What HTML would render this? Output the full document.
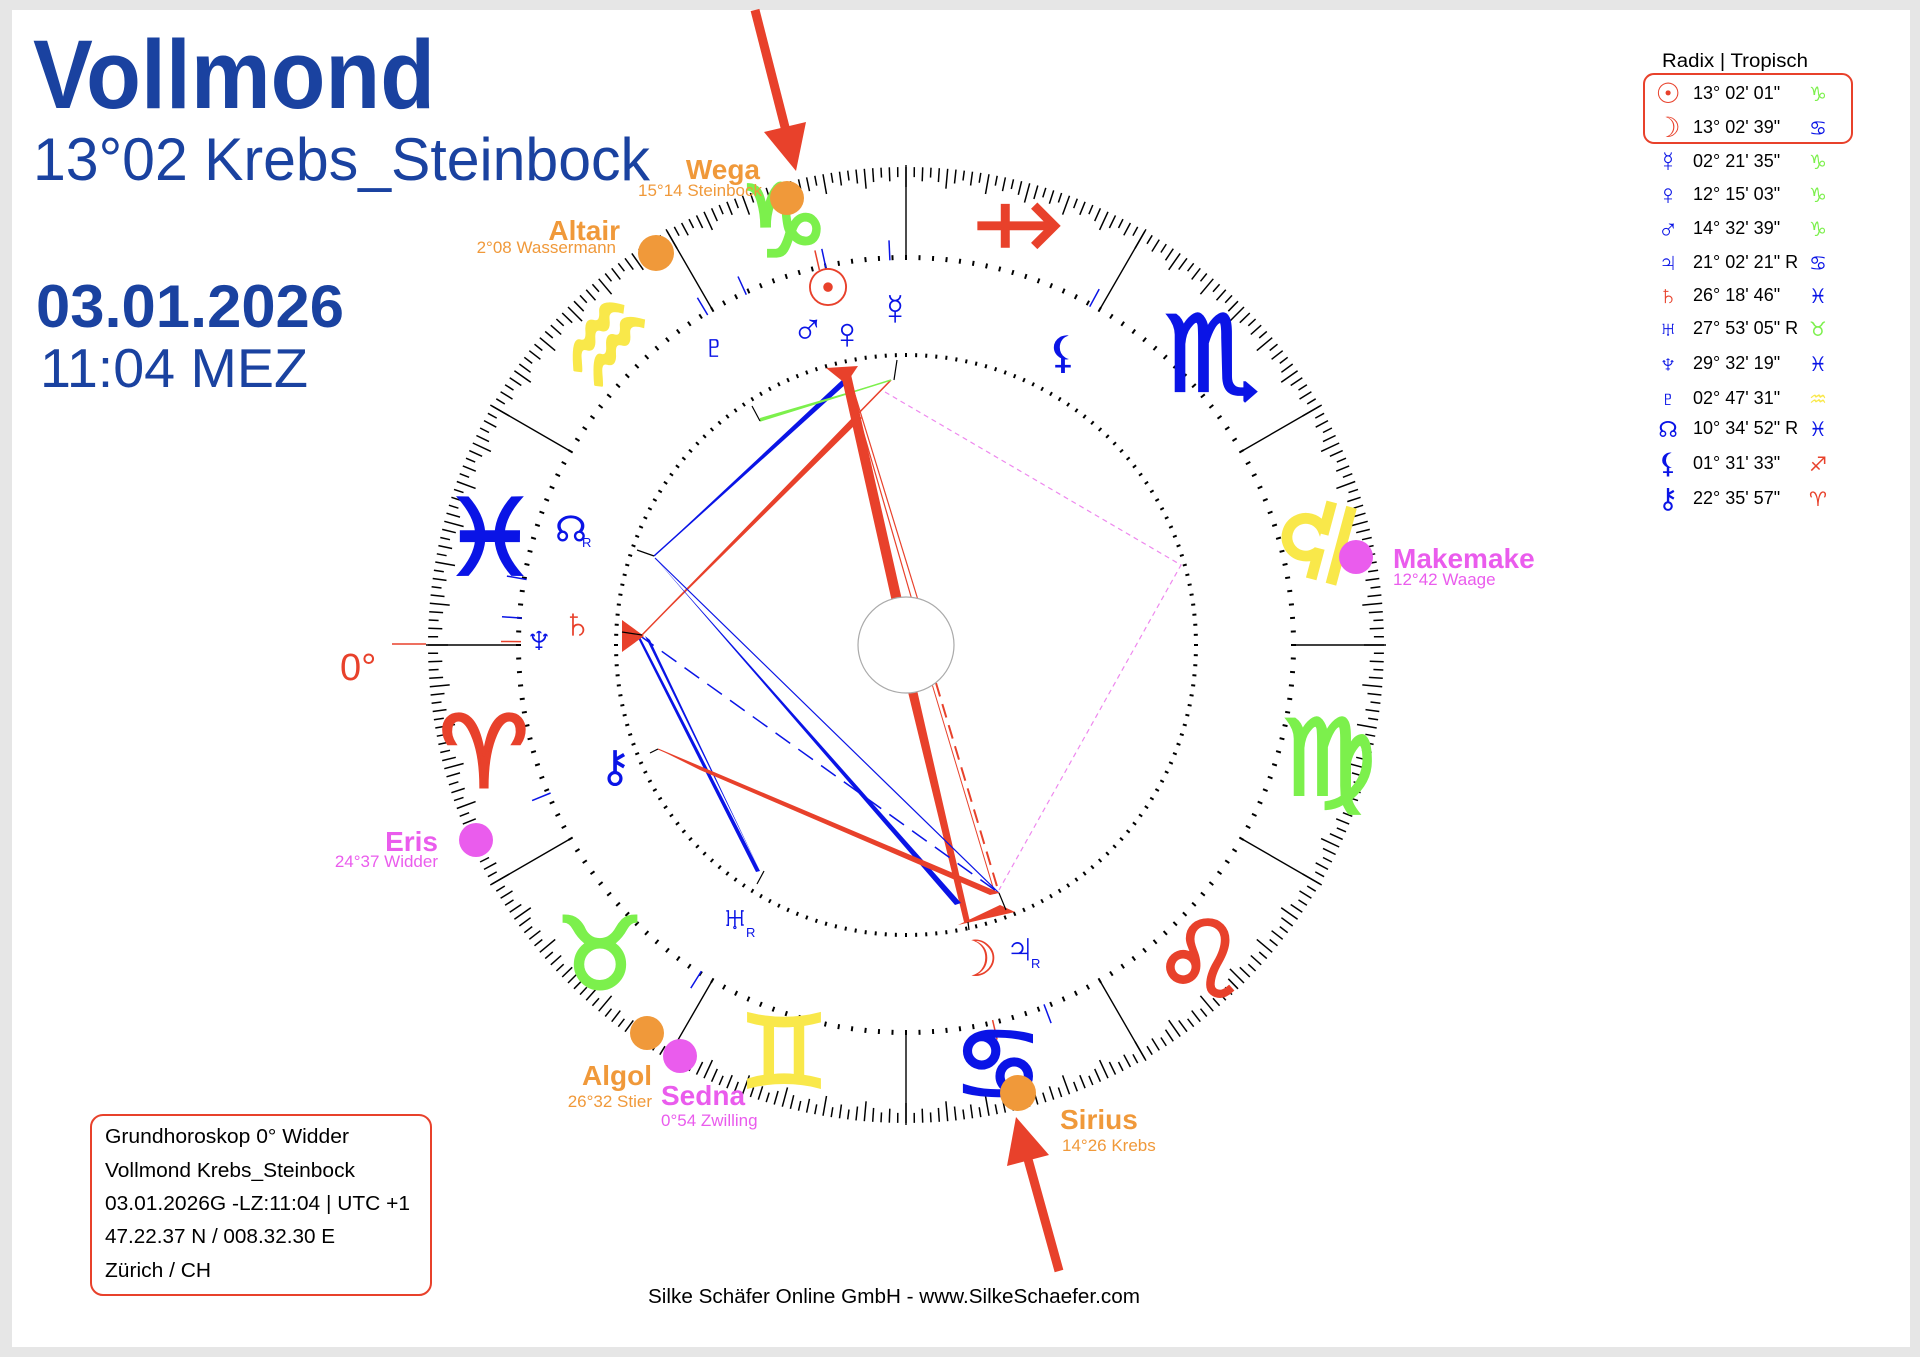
<!DOCTYPE html>
<html><head><meta charset="utf-8"><style>
html,body{margin:0;padding:0;background:#e6e6e6;}
svg{display:block;}
text{font-family:"Liberation Sans","DejaVu Sans",sans-serif;}
.g{font-family:"DejaVu Sans",sans-serif;}
</style></head><body>
<svg id="s" width="1920" height="1357" viewBox="0 0 1920 1357" xmlns="http://www.w3.org/2000/svg">
<rect x="0" y="0" width="1920" height="1357" fill="#e6e6e6"/>
<rect x="12" y="10" width="1898" height="1337" fill="#ffffff"/>

<text x="33" y="108" font-size="97" font-weight="bold" fill="#1a42a0" textLength="402" lengthAdjust="spacingAndGlyphs">Vollmond</text>
<text x="33" y="180" font-size="60" fill="#1a42a0" textLength="617" lengthAdjust="spacingAndGlyphs">13°02 Krebs_Steinbock</text>
<text x="36" y="327" font-size="60" font-weight="bold" fill="#1a42a0" textLength="308" lengthAdjust="spacingAndGlyphs">03.01.2026</text>
<text x="40" y="387" font-size="55" fill="#1a42a0" textLength="268" lengthAdjust="spacingAndGlyphs">11:04 MEZ</text>

<g id="rings"></g>

<line x1="392" y1="644" x2="426" y2="644" stroke="#e8412b" stroke-width="1.5"/>
<text x="340" y="680" font-size="38" fill="#e8412b">0°</text>

<g class="g" text-anchor="middle" dominant-baseline="central" stroke-width="3" font-weight="bold">
<text x="784" y="222" font-size="100" fill="#7cf04c" stroke="#7cf04c">&#x2651;&#xFE0E;</text>
<text x="1016" y="227" font-size="80" fill="#e8412b" stroke="#e8412b" transform="rotate(45 1016 227)">&#x2650;&#xFE0E;</text>
<text x="1212" y="355" font-size="105" fill="#0a14e6" stroke="#0a14e6">&#x264F;&#xFE0E;</text>
<text x="1316" y="539" font-size="105" fill="#f9e84a" stroke="#f9e84a" transform="rotate(-75 1316 539)">&#x264E;&#xFE0E;</text>
<text x="1329" y="759" font-size="105" fill="#7cf04c" stroke="#7cf04c">&#x264D;&#xFE0E;</text>
<text x="1200" y="961" font-size="105" fill="#e8412b" stroke="#e8412b">&#x264C;&#xFE0E;</text>
<text x="998" y="1065" font-size="100" fill="#0a14e6" stroke="#0a14e6">&#x264B;&#xFE0E;</text>
<text x="784" y="1053" font-size="100" fill="#f9e84a" stroke="#f9e84a">&#x264A;&#xFE0E;</text>
<text x="600" y="955" font-size="100" fill="#7cf04c" stroke="#7cf04c">&#x2649;&#xFE0E;</text>
<text x="484" y="753" font-size="100" fill="#e8412b" stroke="#e8412b">&#x2648;&#xFE0E;</text>
<text x="490" y="539" font-size="105" fill="#0a14e6" stroke="#0a14e6">&#x2653;&#xFE0E;</text>
<text x="606" y="343" font-size="110" fill="#f9e84a" stroke="#f9e84a" transform="rotate(-55 606 343)">&#x2652;&#xFE0E;</text>
</g>

<g fill="none">
<polygon points="654,556 846,383 842,380" fill="#0a14e6"/>
<line x1="654" y1="556" x2="846" y2="383" stroke="#0a14e6" stroke-width="1.5"/>
<polygon points="642,635 862,418 856,414" fill="#e8412b"/>
<line x1="642" y1="635" x2="891" y2="380" stroke="#e8412b" stroke-width="1.5"/>
<polygon points="760,421 891,380 760,418" fill="#7cf04c"/>
<line x1="760" y1="421" x2="891" y2="380" stroke="#7cf04c" stroke-width="1.5"/>
<polygon points="840,370 850,370 902,600 892,602" fill="#e8412b"/>
<line x1="846" y1="372" x2="912" y2="600" stroke="#e8412b" stroke-width="1.2"/>
<line x1="848" y1="372" x2="918" y2="600" stroke="#e8412b" stroke-width="1.2"/>
<polygon points="908,692 917,690 970,922 964,922" fill="#e8412b"/>
<line x1="936" y1="683" x2="999" y2="893" stroke="#e8412b" stroke-width="2" stroke-dasharray="14,8"/>
<line x1="932" y1="684" x2="995" y2="894" stroke="#e8412b" stroke-width="1"/>
<polygon points="655,558 961,903 955,905" fill="#0a14e6"/>
<line x1="655" y1="558" x2="999" y2="893" stroke="#0a14e6" stroke-width="1.2"/>
<line x1="639" y1="635" x2="999" y2="893" stroke="#0a14e6" stroke-width="1.5" stroke-dasharray="18,10"/>
<polygon points="639,635 760,871 756,872 639,640" fill="#0a14e6"/>
<polygon points="645,636 760,871 650,640" fill="#0a14e6"/>
<polygon points="658,749 999,893 990,895 700,770" fill="#e8412b"/>
<line x1="658" y1="749" x2="999" y2="893" stroke="#e8412b" stroke-width="1.2"/>
<polyline points="885,392 1181,565 999,890" stroke="#ee88ee" stroke-width="1.2" stroke-dasharray="5,4"/>
<polygon points="826,368 858,366 846,384" fill="#e8412b"/>
<polygon points="622,620 622,652 644,636" fill="#e8412b"/>
<polygon points="958,925 1015,912 1000,905" fill="#e8412b"/>
<polyline points="894,380 897,360" stroke="#000" stroke-width="1.2"/>
<polyline points="760,421 752,406" stroke="#000" stroke-width="1.2"/>
<polyline points="654,556 637,550" stroke="#000" stroke-width="1.2"/>
<polyline points="642,635 622,632" stroke="#000" stroke-width="1.2"/>
<polyline points="658,749 650,753" stroke="#000" stroke-width="1.2"/>
<polyline points="764,871 757,884" stroke="#000" stroke-width="1.2"/>
<polyline points="999,893 1006,910" stroke="#000" stroke-width="1.2"/>
<polyline points="968,922 969,930" stroke="#000" stroke-width="1.2"/>
</g>
<circle cx="906" cy="645" r="48" fill="#fff" stroke="#aaa" stroke-width="1.2"/>

<g class="g" font-size="44" text-anchor="middle" dominant-baseline="central" font-weight="bold">
<text x="828" y="289" fill="#e8412b" font-size="52">&#x2609;</text>
<text x="808" y="328" fill="#0a14e6">&#x2642;</text>
<text x="847" y="334" fill="#0a14e6">&#x2640;</text>
<text x="895" y="310" fill="#0a14e6">&#x263F;</text>
<text x="1063" y="353" fill="#0a14e6">&#x26B8;</text>
<text x="714" y="347" fill="#0a14e6">&#x2647;</text>
<text x="571" y="529" fill="#0a14e6" font-size="36">&#x260A;</text>
<text x="539" y="639" fill="#0a14e6">&#x2646;</text>
<text x="577" y="624" fill="#e8412b">&#x2644;</text>
<text x="615" y="767" fill="#0a14e6">&#x26B7;</text>
<text x="735" y="918" fill="#0a14e6">&#x2645;</text>
<text x="976" y="959" fill="#e8412b" font-size="50">&#x263D;</text>
<text x="1020" y="949" fill="#0a14e6">&#x2643;</text>
</g>
<g font-size="13" fill="#0a14e6">
<text x="582" y="547">R</text><text x="746" y="937">R</text><text x="1031" y="968">R</text>
</g>

<g>
<circle cx="787" cy="198" r="17" fill="#f0993a"/>
<circle cx="656" cy="253" r="18" fill="#f0993a"/>
<circle cx="1356" cy="557" r="17" fill="#ea5ced"/>
<circle cx="476" cy="840" r="17" fill="#ea5ced"/>
<circle cx="647" cy="1033" r="17" fill="#f0993a"/>
<circle cx="680" cy="1056" r="17" fill="#ea5ced"/>
<circle cx="1018" cy="1093" r="18" fill="#f0993a"/>
</g>
<g font-weight="bold" font-size="28">
<text x="760" y="179" fill="#f0993a" text-anchor="end">Wega</text>
<text x="620" y="240" fill="#f0993a" text-anchor="end">Altair</text>
<text x="1393" y="568" fill="#ea5ced">Makemake</text>
<text x="438" y="851" fill="#ea5ced" text-anchor="end">Eris</text>
<text x="652" y="1085" fill="#f0993a" text-anchor="end">Algol</text>
<text x="661" y="1105" fill="#ea5ced">Sedna</text>
<text x="1060" y="1129" fill="#f0993a">Sirius</text>
</g>
<g font-size="17">
<text x="762" y="196" fill="#f0993a" text-anchor="end">15°14 Steinbock</text>
<text x="616" y="253" fill="#f0993a" text-anchor="end">2°08 Wassermann</text>
<text x="1393" y="585" fill="#ea5ced">12°42 Waage</text>
<text x="438" y="867" fill="#ea5ced" text-anchor="end">24°37 Widder</text>
<text x="652" y="1107" fill="#f0993a" text-anchor="end">26°32 Stier</text>
<text x="661" y="1126" fill="#ea5ced">0°54 Zwilling</text>
<text x="1062" y="1151" fill="#f0993a">14°26 Krebs</text>
</g>

<line x1="755" y1="10" x2="787" y2="135" stroke="#e8412b" stroke-width="9"/>
<polygon points="796,171 806,122 764,132" fill="#e8412b"/>
<line x1="1059" y1="1271" x2="1026" y2="1152" stroke="#e8412b" stroke-width="9"/>
<polygon points="1016,1117 1049,1155 1007,1166" fill="#e8412b"/>

<text x="1662" y="67" font-size="19" fill="#000" textLength="146" lengthAdjust="spacingAndGlyphs">Radix | Tropisch</text>
<rect x="1644" y="74" width="208" height="69" rx="10" fill="none" stroke="#e8412b" stroke-width="2"/>
<g class="g" font-size="28" text-anchor="middle" font-weight="bold">
<text x="1668" y="103" fill="#e8412b">&#x2609;</text>
<text x="1668" y="137" fill="#e8412b">&#x263D;</text>
<text x="1668" y="171" fill="#0a14e6">&#x263F;</text>
<text x="1668" y="204" fill="#0a14e6">&#x2640;</text>
<text x="1668" y="238" fill="#0a14e6">&#x2642;</text>
<text x="1668" y="272" fill="#0a14e6">&#x2643;</text>
<text x="1668" y="305" fill="#e8412b">&#x2644;</text>
<text x="1668" y="338" fill="#0a14e6">&#x2645;</text>
<text x="1668" y="373" fill="#0a14e6">&#x2646;</text>
<text x="1668" y="408" fill="#0a14e6">&#x2647;</text>
<text x="1668" y="437" fill="#0a14e6" font-size="22">&#x260A;</text>
<text x="1668" y="473" fill="#0a14e6">&#x26B8;</text>
<text x="1668" y="508" fill="#0a14e6">&#x26B7;</text>
</g>
<g font-size="18" fill="#000">
<text x="1693" y="99">13° 02' 01"</text>
<text x="1693" y="133">13° 02' 39"</text>
<text x="1693" y="167">02° 21' 35"</text>
<text x="1693" y="200">12° 15' 03"</text>
<text x="1693" y="234">14° 32' 39"</text>
<text x="1693" y="268">21° 02' 21" R</text>
<text x="1693" y="301">26° 18' 46"</text>
<text x="1693" y="334">27° 53' 05" R</text>
<text x="1693" y="369">29° 32' 19"</text>
<text x="1693" y="404">02° 47' 31"</text>
<text x="1693" y="434">10° 34' 52" R</text>
<text x="1693" y="469">01° 31' 33"</text>
<text x="1693" y="504">22° 35' 57"</text>
</g>
<g class="g" font-size="20" text-anchor="middle" font-weight="bold">
<text x="1818" y="101" fill="#7cf04c">&#x2651;&#xFE0E;</text>
<text x="1818" y="135" fill="#0a14e6">&#x264B;&#xFE0E;</text>
<text x="1818" y="169" fill="#7cf04c">&#x2651;&#xFE0E;</text>
<text x="1818" y="202" fill="#7cf04c">&#x2651;&#xFE0E;</text>
<text x="1818" y="236" fill="#7cf04c">&#x2651;&#xFE0E;</text>
<text x="1818" y="270" fill="#0a14e6">&#x264B;&#xFE0E;</text>
<text x="1818" y="303" fill="#0a14e6">&#x2653;&#xFE0E;</text>
<text x="1818" y="336" fill="#7cf04c">&#x2649;&#xFE0E;</text>
<text x="1818" y="371" fill="#0a14e6">&#x2653;&#xFE0E;</text>
<text x="1818" y="406" fill="#f9e84a">&#x2652;&#xFE0E;</text>
<text x="1818" y="436" fill="#0a14e6">&#x2653;&#xFE0E;</text>
<text x="1818" y="471" fill="#e8412b">&#x2650;&#xFE0E;</text>
<text x="1818" y="506" fill="#e8412b">&#x2648;&#xFE0E;</text>
</g>

<rect x="91" y="1115" width="340" height="180" rx="12" fill="none" stroke="#e8412b" stroke-width="2"/>
<g font-size="20" fill="#000">
<text x="105" y="1143" textLength="244" lengthAdjust="spacingAndGlyphs">Grundhoroskop 0° Widder</text>
<text x="105" y="1177" textLength="250" lengthAdjust="spacingAndGlyphs">Vollmond Krebs_Steinbock</text>
<text x="105" y="1210" textLength="305" lengthAdjust="spacingAndGlyphs">03.01.2026G -LZ:11:04 | UTC +1</text>
<text x="105" y="1243" textLength="230" lengthAdjust="spacingAndGlyphs">47.22.37 N / 008.32.30 E</text>
<text x="105" y="1277" textLength="106" lengthAdjust="spacingAndGlyphs">Zürich / CH</text>
</g>
<text x="648" y="1303" font-size="20" fill="#000" textLength="492" lengthAdjust="spacingAndGlyphs">Silke Schäfer Online GmbH - www.SilkeSchaefer.com</text>
</svg>
<script>
(function(){
var g=document.getElementById('rings'),cx=906,cy=645,h='';
function P(l,r){var a=l*Math.PI/180;return [cx-r*Math.cos(a),cy+r*Math.sin(a)];}
function L(l,r1,r2,c,w){var a=P(l,r1),b=P(l,r2);h+='<line x1="'+a[0].toFixed(1)+'" y1="'+a[1].toFixed(1)+'" x2="'+b[0].toFixed(1)+'" y2="'+b[1].toFixed(1)+'" stroke="'+c+'" stroke-width="'+w+'"/>';}
for(var d=0;d<360;d++){
 var len=(d%5==0)?20:((d%2==0)?14:10);
 L(d,478,478-len,'#000',1.5);
 if(d%2==0){L(d,385,390,'#000',2);L(d,288,292,'#000',2);}
}
for(var k=0;k<12;k++){L(k*30,385,480,'#000',1.4);}
var pm=[[283,'#e8412b'],[294.5,'#0a14e6'],[282,'#0a14e6'],[272.4,'#0a14e6'],[301,'#0a14e6'],[241.5,'#0a14e6'],[350.2,'#0a14e6'],[359.5,'#e8412b'],[356,'#0a14e6'],[22.6,'#0a14e6'],[57.9,'#0a14e6'],[103,'#e8412b'],[111,'#0a14e6']];
pm.forEach(function(p){L(p[0],385,405,p[1],1.5);});
g.innerHTML=h;
})();
</script>
</body></html>
